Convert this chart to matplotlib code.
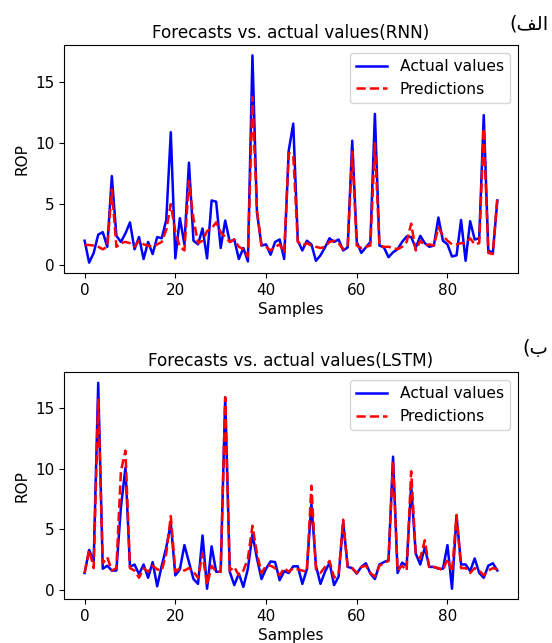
import numpy as np
import matplotlib
matplotlib.use("Agg")
import matplotlib.pyplot as plt

# RNN panel (top)
rnn_actual = [2.0, 0.2, 1.0, 2.5, 2.7, 1.5, 7.3, 2.4, 1.9, 2.6,
              3.5, 1.3, 2.3, 0.5, 1.9, 0.9, 2.3, 2.2, 3.7, 10.9,
              0.55, 3.85, 1.7, 8.4, 2.0, 1.7, 3.0, 0.55, 5.3, 5.2,
              1.4, 3.65, 1.9, 2.1, 0.5, 1.4, 0.3, 17.2, 4.3, 1.6,
              1.7, 0.85, 1.9, 2.1, 0.5, 9.4, 11.6, 2.0, 1.2, 2.0,
              1.7, 0.35, 0.8, 1.45, 2.2, 1.9, 2.1, 1.2, 1.45, 10.2,
              1.9, 1.0, 1.45, 1.9, 12.4, 1.6, 1.45, 0.65, 1.05, 1.3,
              1.9, 2.35, 2.3, 1.4, 2.4, 1.8, 1.5, 1.6, 3.9, 2.0,
              1.7, 0.7, 0.8, 3.7, 0.35, 3.6, 2.1, 2.2, 12.3, 1.2,
              1.0, 5.3]
rnn_pred = [1.65, 1.65, 1.6, 1.5, 1.3, 1.5, 6.2, 1.5, 1.8, 1.9,
            1.8, 1.5, 2.0, 1.7, 1.6, 1.5, 1.7, 1.9, 2.9, 5.0,
            2.7, 1.5, 1.2, 6.9, 3.8, 1.8, 2.0, 2.8, 3.0, 3.5,
            2.7, 2.3, 1.9, 2.1, 1.5, 1.3, 0.7, 13.8, 4.5, 1.6,
            1.5, 1.2, 1.5, 1.7, 1.0, 9.2, 9.0, 1.9, 1.6, 1.8,
            1.6, 1.5, 1.4, 1.5, 1.9, 2.0, 1.8, 1.3, 1.5, 9.3,
            1.6, 1.4, 1.5, 1.6, 10.0, 1.6, 1.5, 1.5, 1.4, 1.3,
            1.5, 1.9, 3.4, 1.2, 2.0, 1.6, 1.7, 1.6, 3.1, 2.4,
            2.0, 1.7, 1.7, 1.8, 1.8, 2.2, 1.7, 1.8, 11.2, 1.0,
            0.9, 5.6]

# LSTM panel (bottom)
lstm_actual = [1.4, 3.3, 2.4, 17.1, 1.75, 2.0, 1.6, 1.6, 6.8, 10.1,
               1.9, 2.1, 1.3, 2.1, 1.0, 2.3, 0.3, 2.0, 3.5, 5.5,
               1.2, 1.7, 3.7, 2.3, 0.9, 0.5, 4.5, 0.1, 3.6, 1.5,
               1.5, 15.9, 1.5, 0.4, 1.35, 0.25, 1.75, 4.6, 2.6, 0.9,
               1.75, 2.35, 2.3, 0.8, 1.55, 1.4, 1.95, 1.95, 0.5, 1.7,
               7.1, 2.0, 0.5, 1.5, 2.25, 0.4, 1.1, 5.6, 1.9, 1.8,
               1.35, 1.9, 2.2, 1.35, 0.9, 2.1, 2.3, 2.45, 11.0, 1.4,
               2.25, 2.0, 8.6, 3.0, 2.1, 3.5, 1.9, 1.9, 1.75, 1.75,
               3.7, 0.1, 6.1, 2.1, 2.1, 1.55, 2.6, 1.4, 1.0, 2.0,
               2.2, 1.6]
lstm_pred = [1.4, 3.3, 1.8, 15.8, 2.2, 2.7, 1.6, 1.8, 9.8, 11.5,
             1.8, 1.6, 1.0, 1.8, 1.5, 2.0, 1.7, 1.6, 3.0, 6.1,
             1.5, 1.8, 1.6, 1.8, 1.5, 1.0, 3.0, 0.4, 2.0, 1.5,
             1.5, 15.9, 1.6, 1.9, 1.2, 1.6, 2.6, 5.3, 3.0, 1.4,
             2.0, 2.0, 1.8, 1.2, 1.8, 1.5, 1.8, 1.7, 1.6, 1.5,
             8.6, 1.7, 1.4, 1.9, 2.4, 1.0, 1.3, 5.8, 1.9, 1.8,
             1.4, 1.9, 2.0, 1.4, 1.1, 2.0, 2.2, 2.4, 10.6, 1.6,
             2.0, 1.6, 9.8, 3.0, 2.6, 4.1, 1.8, 1.9, 1.8, 1.6,
             2.6, 1.5, 6.2, 1.8, 1.8, 1.4, 1.8, 1.6, 1.2, 1.6,
             1.8, 1.7]

titles = ["Forecasts vs. actual values(RNN)", "Forecasts vs. actual values(LSTM)"]
# Persian panel letters, already in visual (left-to-right) order with joined forms
panel_tags = ["(\ufed2\ufedf\ufe8d", "(\ufe8f"]
tag_y = [0.963, 0.458]

fig = plt.figure(figsize=(5.52, 6.43), dpi=100)
ax1 = fig.add_axes([0.1159, 0.5754, 0.8225, 0.3546])
ax2 = fig.add_axes([0.1159, 0.0684, 0.8225, 0.3523])

series = [(rnn_actual, rnn_pred), (lstm_actual, lstm_pred)]
for ax, (act, pred), title, tag, ty in zip([ax1, ax2], series, titles, panel_tags, tag_y):
    x = np.arange(len(act))
    ax.plot(x, act, color="blue", lw=1.8, label="Actual values")
    ax.plot(x, pred, color="red", lw=1.8, ls="--", label="Predictions")
    ax.set_title(title, fontsize=12.2, pad=5)
    ax.set_xlabel("Samples", fontsize=11, labelpad=3)
    ax.set_ylabel("ROP", fontsize=11)
    ax.set_xticks([0, 20, 40, 60, 80])
    ax.set_yticks([0, 5, 10, 15])
    ax.tick_params(labelsize=11)
    ax.legend(loc="upper right", fontsize=11.2)
    fig.text(0.994, ty, tag, fontsize=14, family="DejaVu Sans",
             ha="right", va="center")

fig.savefig("out.png", dpi=100)
